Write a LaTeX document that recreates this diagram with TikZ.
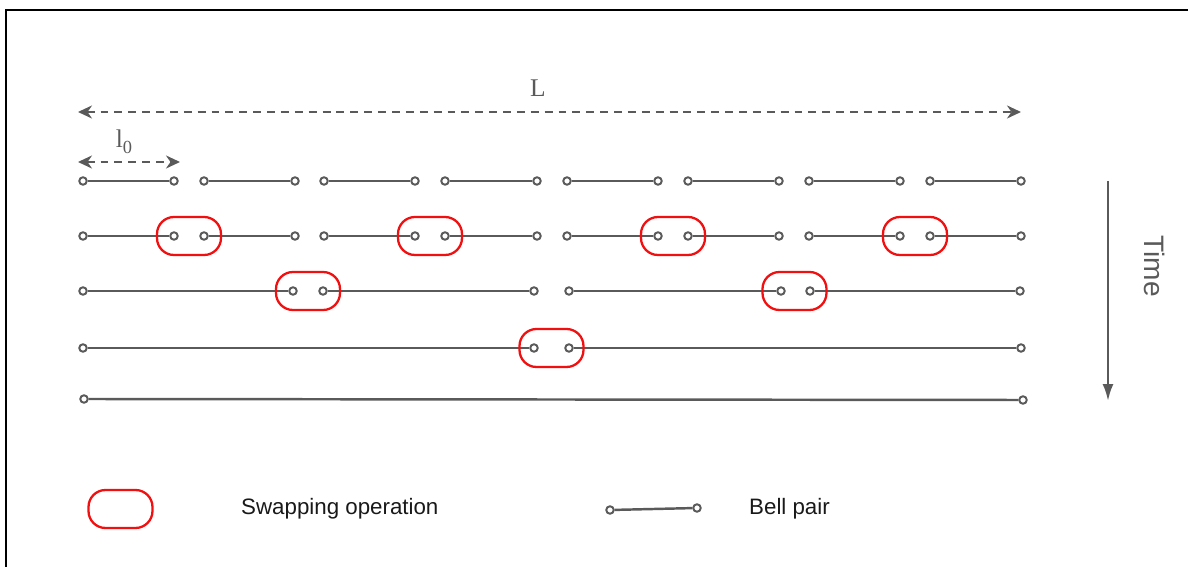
\documentclass[tikz,border=0pt]{standalone}
\usepackage{fontspec}
\setmainfont{Liberation Serif}
\setsansfont{Liberation Sans}
\usepackage{tikz}
\usetikzlibrary{arrows.meta}
\definecolor{linegray}{HTML}{5A5A5A}
\definecolor{swapred}{HTML}{F20F0F}

\begin{document}
\begin{tikzpicture}[x=0.02cm,y=-0.02cm,
  port/.style={circle,draw=linegray,fill=white,line width=1.1pt,inner sep=0pt,minimum size=0.15cm},
  bell/.style={draw=linegray,line width=1.4pt},
  swapbox/.style={draw=swapred,line width=1.3pt,rounded corners=0.34cm,minimum width=1.28cm,minimum height=0.76cm},
  dimarrow/.style={linegray,line width=1.4pt,dash pattern=on 4.5pt off 3.4pt,{Stealth[length=0.28cm,width=0.26cm,inset=0.09cm]}-{Stealth[length=0.28cm,width=0.26cm,inset=0.09cm]}},
  label/.style={font=\fontsize{12.7pt}{14pt}\sffamily,text=black!90}]

\useasboundingbox (0,0) rectangle (1188,567);
\draw[black,line width=1.4pt] (6,567) -- (6,10) -- (1188,10);

% distances
\coordinate (Lw) at (78,112);
\coordinate (Le) at (1021,112);
\draw[dimarrow] (Lw) -- (Le);
\node[text=linegray,font=\fontsize{14.5pt}{16pt}\selectfont] (Llab) at (538,88) {L};
\coordinate (lw) at (78,162);
\coordinate (le) at (180,162);
\draw[dimarrow] (lw) -- (le);
\node[text=linegray,font=\fontsize{14.5pt}{16pt}\selectfont] (l0lab) at (124,142) {l\raisebox{-0.55ex}{\fontsize{10.5pt}{12pt}\selectfont 0}};

% elementary links, then the swapping rounds
\foreach \y/\r in {181/1,236/2}
\foreach \a/\b [count=\i] in {83/174,204/295,324/415,445/537,567/658,688/779,809/900,930/1021}
{
\node[port] (p\r-\i a) at (\a,\y) {};
\node[port] (p\r-\i b) at (\b,\y) {};
\draw[bell] (p\r-\i a) -- (p\r-\i b);
}
\foreach \x [count=\i] in {189,430,673,915}
\node[swapbox] (s2-\i) at (\x,236) {};

\foreach \a/\b [count=\i] in {83/293,323/534,569/781,810/1020}
{
\node[port] (p3-\i a) at (\a,291) {};
\node[port] (p3-\i b) at (\b,291) {};
\draw[bell] (p3-\i a) -- (p3-\i b);
}
\foreach \x [count=\i] in {308,794.5}
\node[swapbox] (s3-\i) at (\x,291) {};

\foreach \a/\b [count=\i] in {83/534,569/1021}
{
\node[port] (p4-\i a) at (\a,348) {};
\node[port] (p4-\i b) at (\b,348) {};
\draw[bell] (p4-\i a) -- (p4-\i b);
}
\node[swapbox] (s4-1) at (551.5,348) {};

\node[port] (p5-1a) at (84,399) {};
\node[port] (p5-1b) at (1023,400) {};
\draw[bell] (p5-1a) -- (p5-1b);

% time axis
\coordinate (tstart) at (1108,181);
\coordinate (tend) at (1108,401);
\draw[linegray,line width=1.4pt,-{Latex[length=0.34cm,width=0.22cm]}] (tstart) -- (tend);
\node[rotate=-90,text=linegray,font=\fontsize{16pt}{18pt}\sffamily] (time) at (1155,266) {Time};

% legend
\node[swapbox] (legswap) at (120.5,509) {};
\node[label,anchor=west] (legswaptxt) at (235,509) {Swapping operation};
\node[port] (legbella) at (610,510) {};
\node[port] (legbellb) at (697,508) {};
\draw[bell] (legbella) -- (legbellb);
\node[label,anchor=west] (legbelltxt) at (743,509) {Bell pair};

\end{tikzpicture}
\end{document}
